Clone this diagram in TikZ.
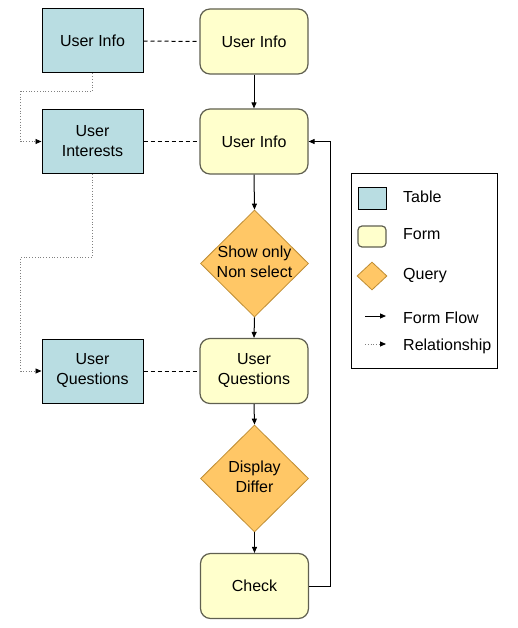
\documentclass[tikz,border=0pt]{standalone}
\usepackage{fontspec}
\setmainfont{Liberation Sans}
\usetikzlibrary{shapes.geometric,arrows.meta}
\definecolor{tblfill}{RGB}{185,221,226}
\definecolor{frmfill}{RGB}{255,255,204}
\definecolor{frmdraw}{RGB}{96,96,80}
\definecolor{qryfill}{RGB}{255,199,102}
\definecolor{qrydraw}{RGB}{190,140,50}
\tikzset{
  every node/.style={font=\fontsize{16}{20}\selectfont, align=center},
  tbl/.style={draw=black, line width=1pt, fill=tblfill, minimum width=101pt, minimum height=64pt, inner sep=0pt},
  frm/.style={draw=frmdraw, line width=1.2pt, fill=frmfill, rounded corners=10pt, minimum width=108pt, minimum height=65pt, inner sep=0pt},
  qry/.style={diamond, draw=qrydraw, line width=0.8pt, fill=qryfill, minimum width=108pt, minimum height=107pt, inner sep=0pt},
  flow/.style={draw=black, line width=1pt, -{Triangle[length=6pt,width=5pt]}},
  rel/.style={draw=gray, line width=0.8pt, dotted, -{Triangle[length=6pt,width=5pt,black,fill=black]}},
  assoc/.style={draw=black, line width=1pt, dash pattern=on 4pt off 3pt},
  lbl/.style={anchor=west, inner sep=0pt}
}
\newcommand{\qtxt}[1]{\makebox[0pt][c]{\begin{tabular}{@{}c@{}}#1\end{tabular}}}
\begin{document}
\begin{tikzpicture}[x=1pt,y=-1pt]
\useasboundingbox (0,0) rectangle (518,628);
\fill[white] (0,0) rectangle (518,628);
% tables
\node[tbl] (t1) at (92.5,41) {User Info};
\node[tbl] (t2) at (92.5,141.5) {User\\Interests};
\node[tbl] (t3) at (92.5,371) {User\\Questions};
% forms
\node[frm] (f1) at (254,41.5) {User Info};
\node[frm] (f2) at (254,141.5) {User Info};
\node[qry] (q1) at (254.5,263.5) {\qtxt{Show only\\Non select}};
\node[frm] (f3) at (254,371) {User\\Questions};
\node[qry] (q2) at (254.5,478.5) {\qtxt{Display\\Differ}};
\node[frm] (chk) at (254.5,586) {Check};
% form flow
\draw[flow] (f1.south) -- (f2.north);
\draw[flow] (f2.south) -- (q1.north);
\draw[flow] (q1.south) -- (f3.north);
\draw[flow] (f3.south) -- (q2.north);
\draw[flow] (q2.south) -- (chk.north);
\draw[flow] (chk.east) -- ++(21,0) |- (f2.east);
% associations
\draw[assoc] (t1.east) -- (f1.west);
\draw[assoc] (t2.east) -- (f2.west);
\draw[assoc] (t3.east) -- (f3.west);
% relationships
\draw[rel] (t1.south) -- ++(0,18) -- ++(-72,0) |- (t2.west);
\draw[rel] (t2.south) -- ++(0,83) -- ++(-72,0) |- (t3.west);
% legend
\node[draw=black, line width=1pt, minimum width=146pt, minimum height=194pt, inner sep=0pt] (lg) at (424,271) {};
\node[tbl, minimum width=28pt, minimum height=22pt] (lt) at (372,199) {};
\node[lbl] (ltt) at (403,197) {Table};
\node[frm, rounded corners=4pt, minimum width=28pt, minimum height=21pt] (lf) at (372,236.5) {};
\node[lbl] (lft) at (403,234) {Form};
\node[qry, minimum width=30pt, minimum height=28pt] (lq) at (372,276) {};
\node[lbl] (lqt) at (403,276) {Query};
\coordinate (ff1) at (365,316);
\coordinate (ff2) at (386,316);
\draw[flow] (ff1) -- (ff2);
\node[lbl] (lfft) at (403,318) {Form Flow};
\coordinate (rl1) at (365,344);
\coordinate (rl2) at (386,344);
\draw[rel] (rl1) -- (rl2);
\node[lbl] (lrt) at (403,346) {Relationship};
\end{tikzpicture}
\end{document}
